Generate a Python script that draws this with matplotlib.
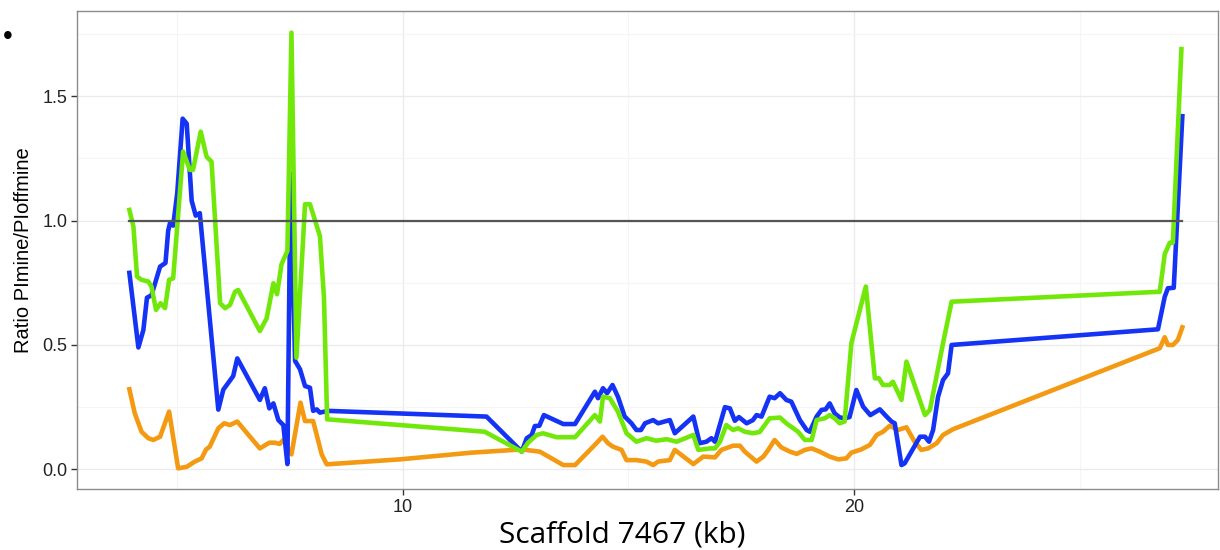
import matplotlib
matplotlib.use("Agg")
import matplotlib.pyplot as plt
from matplotlib.ticker import FixedLocator

# positions along scaffold (kb) and ratio values
blue_kb = [3.95, 4.15, 4.26, 4.34, 4.44, 4.63, 4.75, 4.81, 4.85, 4.92, 5.01, 5.13, 5.22,
           5.33, 5.42, 5.51, 5.92, 6.03, 6.25, 6.34, 6.84, 6.95, 7.05, 7.14, 7.25, 7.36,
           7.45, 7.52, 7.62, 7.73, 7.84, 7.95, 8.02, 8.10, 8.17, 8.35, 11.86, 12.64, 12.75,
           12.86, 12.93, 13.03, 13.13, 13.56, 13.82, 14.26, 14.33, 14.44, 14.53, 14.65,
           14.77, 14.92, 15.07, 15.18, 15.28, 15.37, 15.55, 15.66, 15.92, 16.03, 16.44,
           16.58, 16.73, 16.84, 16.92, 17.14, 17.25, 17.36, 17.45, 17.62, 17.76, 17.84,
           17.95, 18.13, 18.24, 18.36, 18.50, 18.61, 18.80, 18.95, 19.02, 19.17, 19.28,
           19.37, 19.46, 19.57, 19.68, 19.79, 19.90, 20.05, 20.20, 20.36, 20.57, 20.72,
           20.83, 20.90, 21.05, 21.12, 21.46, 21.57, 21.66, 21.75, 21.86, 21.97, 22.08,
           22.16, 26.73, 26.88, 26.95, 27.08, 27.27]
blue_ratio = [0.79, 0.49, 0.56, 0.69, 0.70, 0.815, 0.83, 0.96, 0.99, 0.98, 1.11, 1.41, 1.39,
              1.08, 1.02, 1.03, 0.24, 0.32, 0.375, 0.446, 0.279, 0.326, 0.245, 0.265, 0.198,
              0.178, 0.021, 1.19, 0.436, 0.402, 0.335, 0.328, 0.235, 0.241, 0.228, 0.235,
              0.212, 0.071, 0.125, 0.138, 0.174, 0.175, 0.218, 0.182, 0.182, 0.312, 0.286,
              0.326, 0.306, 0.339, 0.292, 0.212, 0.185, 0.158, 0.158, 0.185, 0.198, 0.185,
              0.198, 0.145, 0.212, 0.105, 0.111, 0.125, 0.111, 0.25, 0.245, 0.195, 0.21,
              0.185, 0.198, 0.218, 0.212, 0.292, 0.286, 0.306, 0.279, 0.272, 0.198, 0.158,
              0.151, 0.212, 0.239, 0.241, 0.265, 0.225, 0.209, 0.205, 0.21, 0.319, 0.252,
              0.218, 0.241, 0.212, 0.192, 0.185, 0.017, 0.024, 0.131, 0.131, 0.111, 0.158,
              0.292, 0.359, 0.386, 0.50, 0.563, 0.694, 0.728, 0.73, 1.42]

green_kb = [3.95, 4.04, 4.12, 4.22, 4.37, 4.44, 4.54, 4.64, 4.74, 4.83, 4.92, 5.14, 5.29,
            5.36, 5.53, 5.66, 5.77, 5.96, 6.07, 6.18, 6.29, 6.36, 6.84, 6.99, 7.14, 7.22,
            7.32, 7.45, 7.54, 7.65, 7.80, 7.84, 7.95, 8.17, 8.26, 8.33, 11.82, 12.64, 12.78,
            12.97, 13.11, 13.41, 13.82, 14.26, 14.37, 14.44, 14.59, 14.77, 14.96, 15.18,
            15.40, 15.62, 15.85, 16.07, 16.44, 16.55, 16.81, 16.92, 17.03, 17.17, 17.32,
            17.43, 17.58, 17.76, 17.91, 18.13, 18.36, 18.50, 18.76, 18.91, 19.06, 19.17,
            19.35, 19.46, 19.57, 19.68, 19.79, 19.94, 20.09, 20.26, 20.46, 20.55, 20.64,
            20.79, 20.86, 21.05, 21.16, 21.57, 21.68, 21.97, 22.16, 26.77, 26.88, 26.99,
            27.06, 27.25]
green_ratio = [1.043, 0.976, 0.775, 0.762, 0.755, 0.735, 0.641, 0.668, 0.648, 0.762, 0.768,
               1.278, 1.204, 1.204, 1.358, 1.257, 1.237, 0.668, 0.648, 0.661, 0.714, 0.721,
               0.556, 0.607, 0.748, 0.704, 0.825, 0.878, 1.756, 0.449, 0.932, 1.066, 1.066,
               0.938, 0.69, 0.201, 0.151, 0.071, 0.107, 0.138, 0.145, 0.129, 0.129, 0.218,
               0.192, 0.292, 0.286, 0.232, 0.145, 0.111, 0.125, 0.115, 0.121, 0.111, 0.138,
               0.078, 0.084, 0.084, 0.111, 0.178, 0.158, 0.165, 0.151, 0.145, 0.15, 0.205,
               0.208, 0.185, 0.151, 0.118, 0.118, 0.198, 0.205, 0.218, 0.205, 0.185, 0.192,
               0.507, 0.614, 0.735, 0.366, 0.366, 0.339, 0.339, 0.352, 0.279, 0.433, 0.218,
               0.239, 0.507, 0.674, 0.714, 0.865, 0.911, 0.911, 1.69]

orange_kb = [3.95, 4.07, 4.22, 4.37, 4.48, 4.63, 4.83, 5.03, 5.22, 5.40, 5.55, 5.65, 5.73,
             5.92, 6.05, 6.18, 6.34, 6.84, 7.05, 7.17, 7.28, 7.36, 7.54, 7.74, 7.84, 8.02,
             8.21, 8.32, 9.94, 11.53, 12.64, 13.04, 13.56, 13.82, 14.22, 14.43, 14.55, 14.66,
             14.85, 14.96, 15.18, 15.40, 15.55, 15.66, 15.92, 16.03, 16.44, 16.66, 16.92,
             17.06, 17.32, 17.47, 17.58, 17.84, 17.99, 18.10, 18.24, 18.39, 18.58, 18.73,
             18.91, 19.06, 19.24, 19.46, 19.65, 19.83, 19.94, 20.16, 20.35, 20.50, 20.64,
             20.79, 20.97, 21.16, 21.34, 21.49, 21.64, 21.83, 21.97, 22.19, 26.77, 26.88,
             26.95, 27.06, 27.17, 27.27]
orange_ratio = [0.322, 0.225, 0.151, 0.125, 0.118, 0.131, 0.232, 0.004, 0.01, 0.031, 0.044,
                0.08, 0.091, 0.165, 0.185, 0.178, 0.192, 0.084, 0.107, 0.107, 0.102, 0.118,
                0.06, 0.268, 0.194, 0.194, 0.06, 0.02, 0.04, 0.067, 0.08, 0.071, 0.017, 0.017,
                0.091, 0.131, 0.105, 0.091, 0.078, 0.037, 0.037, 0.031, 0.017, 0.031, 0.037,
                0.078, 0.021, 0.051, 0.048, 0.078, 0.095, 0.095, 0.071, 0.031, 0.051, 0.078,
                0.118, 0.088, 0.071, 0.062, 0.078, 0.084, 0.071, 0.051, 0.04, 0.044, 0.067,
                0.08, 0.098, 0.138, 0.151, 0.175, 0.158, 0.169, 0.111, 0.078, 0.084, 0.105,
                0.138, 0.161, 0.487, 0.531, 0.50, 0.50, 0.52, 0.571]

ref_kb = [3.95, 27.27]
ref_ratio = [1.0, 1.0]

plt.rcParams['font.family'] = ['Liberation Sans', 'DejaVu Sans']

fig = plt.figure(figsize=(12.2, 5.5), dpi=100)
ax = fig.add_axes([0.0631, 0.111, 0.9349, 0.869])

lw = 3.3
ax.plot(orange_kb, orange_ratio, color='#F39A12', lw=lw, zorder=3)
ax.plot(blue_kb, blue_ratio, color='#1533F5', lw=lw, zorder=4)
ax.plot(green_kb, green_ratio, color='#72E80A', lw=lw, zorder=5)
ax.plot(ref_kb, ref_ratio, color='#555555', lw=1.6, zorder=6)

ax.set_xlim(2.79, 28.05)
ax.set_ylim(-0.079, 1.843)

ax.xaxis.set_major_locator(FixedLocator([10, 20]))
ax.xaxis.set_minor_locator(FixedLocator([5, 15, 25]))
ax.yaxis.set_major_locator(FixedLocator([0.0, 0.5, 1.0, 1.5]))
ax.yaxis.set_minor_locator(FixedLocator([0.25, 0.75, 1.25, 1.75]))
ax.set_yticklabels(['0.0', '0.5', '1.0', '1.5'])

ax.grid(which='major', color='#ebebeb', lw=1.0, zorder=0)
ax.grid(which='minor', color='#f5f5f5', lw=0.8, zorder=0)
ax.set_axisbelow(True)

for s in ax.spines.values():
    s.set_color('#8c8c8c')
    s.set_linewidth(1.0)

ax.tick_params(which='major', length=4, width=1, color='#333333',
               labelsize=13, labelcolor='#222222', pad=3)
ax.tick_params(which='minor', length=0)

fig.text(0.019, 0.545, 'Ratio PImine/PIoffmine', rotation=90, ha='center', va='center',
         fontsize=14.5, color='black')
fig.text(0.51, 0.027, 'Scaffold 7467 (kb)', ha='center', va='center',
         fontsize=21.5, family=['Open Sans', 'DejaVu Sans'], color='black')
fig.text(0.006, 0.932, '\u2022', ha='center', va='center', fontsize=20, color='black')

fig.savefig('out.png', dpi=100)
